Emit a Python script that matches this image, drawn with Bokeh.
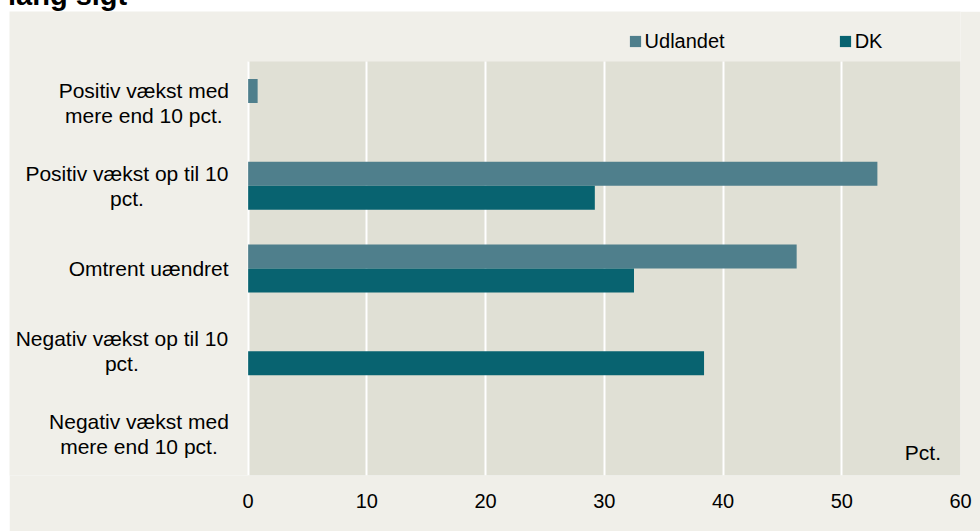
from bokeh.plotting import figure
from bokeh.models import Range1d, FixedTicker, Label, ColumnDataSource, Div
from bokeh.transform import dodge
from bokeh.layouts import column
from bokeh.core.properties import value
from bokeh.embed import file_html
from bokeh.resources import INLINE

# ---- data ----
categories = ["Positiv vækst med\nmere end 10 pct.",
              "Positiv vækst op til 10\npct.",
              "Omtrent uændret",
              "Negativ vækst op til 10\npct.",
              "Negativ vækst med\nmere end 10 pct."]
udlandet = [0.8, 53.0, 46.2, 0.0, 0.0]
dk = [0.0, 29.2, 32.5, 38.4, 0.0]
x_ticks = [0, 10, 20, 30, 40, 50, 60]
series_names = ["Udlandet", "DK"]
title_text = "lang sigt"
unit_text = "Pct."

# ---- style / layout ----
C_UDL = "#4F7F8C"
C_DK = "#086370"
OUTER = "#F0EFE9"
PLOT_BG = "#E0E0D5"
FONT = "Liberation Sans, Arial, sans-serif"
TICK_FONT = "Liberation Sans Narrow, Arial Narrow, Liberation Sans, Arial, sans-serif"
label_centre_offsets = [-104.3, -121.2, -99.5, -126.3, -109.2]  # px from x=0
X_MAX = x_ticks[-1]
n = len(categories)

source = ColumnDataSource(data=dict(cat=categories, udl=udlandet, dk=dk,
                                    pos=[i + 0.5 for i in range(n)],
                                    xoff=label_centre_offsets))

# frame covers the whole figure width/top so labels and legend are not clipped
p = figure(width=971, height=520, output_backend="svg", toolbar_location=None,
           x_range=Range1d(-20.1, X_MAX), y_range=Range1d(n, -0.604),
           min_border_left=0, min_border_right=20, min_border_top=0,
           min_border_bottom=56)
p.margin = (0, 0, 0, 9)
p.background_fill_color = OUTER
p.border_fill_color = OUTER
p.outline_line_color = None

# plot-area background (0..60 x all categories)
p.quad(left=0, right=X_MAX, bottom=n, top=0, fill_color=PLOT_BG, line_color=None,
       level="image")

bh = 0.29
p.hbar(y=dodge("pos", -0.145), right="udl", height=bh, source=source,
       fill_color=C_UDL, line_color=None, legend_label=series_names[0])
p.hbar(y=dodge("pos", 0.145), right="dk", height=bh, source=source,
       fill_color=C_DK, line_color=None, legend_label=series_names[1])

p.text(x=0, y="pos", text="cat", x_offset="xoff", source=source,
       text_align="center", text_baseline="middle",
       text_font=value(FONT), text_font_size="21px", text_color="#000000",
       text_line_height=1.1)

p.xaxis.ticker = FixedTicker(ticks=x_ticks)
p.xaxis.axis_line_color = None
p.xaxis.major_tick_line_color = None
p.xaxis.minor_tick_line_color = None
p.xaxis.major_tick_out = 0
p.xaxis.major_label_standoff = 18
p.xaxis.major_label_text_font = TICK_FONT
p.xaxis.major_label_text_font_size = "20px"
p.xaxis.major_label_text_color = "#000000"
p.yaxis.visible = False

p.xgrid.grid_line_color = "white"
p.xgrid.grid_line_width = 2
p.xgrid.bounds = (0, X_MAX)
p.xgrid.cross_bounds = (0, n)
p.ygrid.grid_line_color = None

p.add_layout(Label(x=X_MAX, y=n, text=unit_text, x_offset=-19.5, y_offset=23,
                   text_align="right", text_baseline="middle",
                   text_font=FONT, text_font_size="21px", text_color="#000000"))

lg = p.legend[0]
lg.orientation = "horizontal"
lg.location = (618.6, 422.5)
lg.glyph_width = 14
lg.glyph_height = 14
lg.label_standoff = 3
lg.spacing = 113
lg.padding = 0
lg.margin = 0
lg.border_line_color = None
lg.background_fill_alpha = 0
lg.label_text_font = FONT
lg.label_text_font_size = "20px"
lg.label_text_color = "#000000"

title = Div(text=('<div style="position:relative; top:-21px; left:8px; '
                  'font-weight:bold; font-size:29px; font-family:' + FONT + '; '
                  'color:#000; white-space:nowrap; line-height:32px;">' + title_text + '</div>'),
            width=980, height=11, margin=(0, 0, 0, 0), styles={"overflow": "visible"})

layout = column(title, p, spacing=0)

open("out.html", "w").write(file_html(layout, INLINE))
